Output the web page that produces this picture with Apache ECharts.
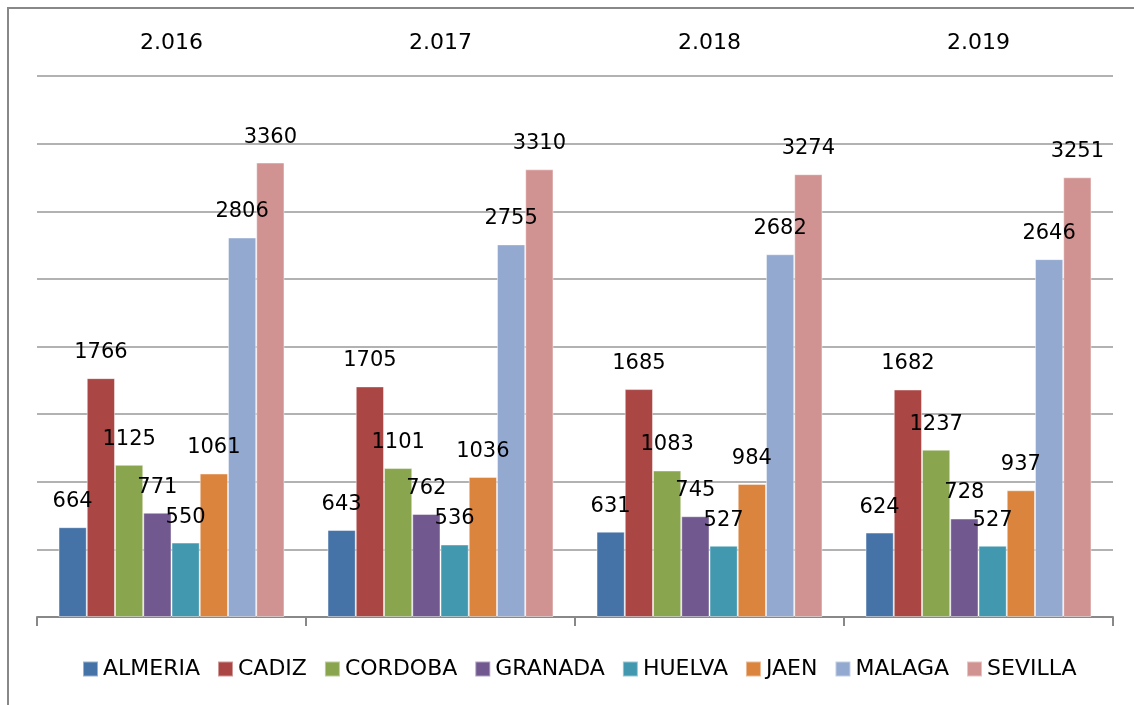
<!DOCTYPE html>
<html>
<head>
<meta charset="utf-8">
<script src="https://cdn.jsdelivr.net/npm/echarts@6/dist/echarts.min.js"></script>
<style>html,body{margin:0;padding:0;background:#fff;}#c{width:1134px;height:705px;}</style>
</head>
<body>
<div id="c"></div>
<script>
const categories = ['2.016', '2.017', '2.018', '2.019'];
const seriesNames = ['ALMERIA', 'CADIZ', 'CORDOBA', 'GRANADA', 'HUELVA', 'JAEN', 'MALAGA', 'SEVILLA'];
const almeria = [664, 643, 631, 624];
const cadiz = [1766, 1705, 1685, 1682];
const cordoba = [1125, 1101, 1083, 1237];
const granada = [771, 762, 745, 728];
const huelva = [550, 536, 527, 527];
const jaen = [1061, 1036, 984, 937];
const malaga = [2806, 2755, 2682, 2646];
const sevilla = [3360, 3310, 3274, 3251];
const colors = ['#4572A7', '#AA4643', '#89A54E', '#71588F', '#4198AF', '#DB843D', '#93A9CF', '#D19392'];
const values = [almeria, cadiz, cordoba, granada, huelva, jaen, malaga, sevilla];

const FONT = 'DejaVu Sans';
const chart = echarts.init(document.getElementById('c'), null, {renderer: 'canvas'});
chart.setOption({
  animation: false,
  backgroundColor: '#fff',
  color: colors,
  textStyle: {fontFamily: FONT},
  graphic: [{
    type: 'rect',
    shape: {x: 8, y: 8, width: 1200, height: 800},
    style: {fill: 'none', stroke: '#888', lineWidth: 2},
    silent: true
  }],
  grid: {left: 37, right: 21, top: 76, bottom: 88, containLabel: false},
  legend: {
    bottom: 20,
    left: 77,
    itemWidth: 15,
    itemHeight: 15,
    itemGap: 17,
    icon: 'rect',
    textStyle: {fontFamily: FONT, fontSize: 22, color: '#000'},
    data: seriesNames
  },
  xAxis: [{
    type: 'category',
    data: categories,
    position: 'bottom',
    axisLine: {show: true, lineStyle: {color: '#888', width: 2}},
    axisTick: {show: true, length: 9, lineStyle: {color: '#888', width: 2}},
    axisLabel: {show: false}
  }, {
    type: 'category',
    data: categories,
    position: 'top',
    axisLine: {show: false},
    axisTick: {show: false},
    axisLabel: {show: true, margin: 22, fontFamily: FONT, fontSize: 22, color: '#000'}
  }],
  yAxis: {
    type: 'value',
    min: 0, max: 4000, interval: 500,
    axisLabel: {show: false},
    axisLine: {show: false},
    axisTick: {show: false},
    splitLine: {show: true, lineStyle: {color: '#999', width: 1.5}}
  },
  series: seriesNames.map((name, i) => ({
    name: name,
    type: 'bar',
    xAxisIndex: 0,
    data: values[i],
    barGap: '0%',
    barCategoryGap: '16%',
    itemStyle: {color: colors[i], borderColor: 'rgba(255,255,255,0.45)', borderWidth: 1},
    label: {
      show: true,
      position: 'top',
      distance: 15,
      fontFamily: FONT,
      fontSize: 21,
      color: '#000'
    }
  }))
});
</script>
</body>
</html>
